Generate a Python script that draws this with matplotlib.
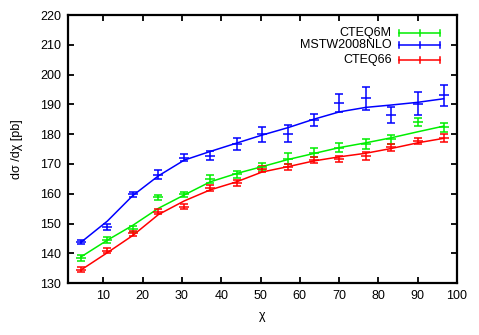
import numpy as np
import matplotlib
matplotlib.use("Agg")
import matplotlib.pyplot as plt

plt.rcParams['font.family'] = ['Liberation Sans', 'DejaVu Sans']

# bin centres in chi
chi = [4.3, 11.0, 17.5, 24.0, 30.6, 37.2, 43.9, 50.4, 57.0, 63.5, 70.1, 76.8, 83.3, 90.0, 96.6]

# CTEQ6M
cteq6m_data = [138.3, 144.6, 148.0, 158.8, 159.8, 164.9, 166.5, 169.1, 171.8, 173.8, 175.4, 176.7, 178.3, 184.2, 182.3]
cteq6m_err = [1.0, 1.0, 1.0, 0.9, 0.9, 1.3, 1.2, 1.2, 1.8, 1.5, 1.5, 1.8, 1.5, 1.3, 1.5]
cteq6m_theory = [138.8, 144.4, 149.4, 155.1, 159.6, 164.0, 166.8, 169.1, 171.5, 173.5, 175.5, 177.1, 178.8, 180.8, 182.7]

# MSTW2008NLO
mstw_data = [143.7, 148.8, 159.8, 166.4, 172.1, 172.7, 176.7, 180.0, 180.2, 184.8, 190.4, 192.0, 186.4, 190.3, 193.0]
mstw_err = [0.6, 1.0, 0.9, 1.5, 1.2, 1.5, 2.0, 2.5, 2.8, 2.0, 3.0, 3.8, 2.8, 3.8, 3.6]
mstw_theory = [143.7, 150.8, 159.4, 166.0, 171.3, 174.2, 177.0, 179.7, 182.2, 185.0, 187.5, 189.0, 189.8, 190.7, 191.9]

# CTEQ66
cteq66_data = [134.5, 140.9, 146.7, 154.0, 155.6, 162.0, 163.6, 168.3, 169.1, 171.3, 171.7, 172.7, 175.6, 177.7, 178.6]
cteq66_err = [0.8, 0.8, 0.9, 0.9, 0.8, 1.0, 1.1, 1.0, 1.0, 1.0, 1.1, 1.3, 1.2, 1.0, 1.3]
cteq66_theory = [134.4, 140.2, 146.0, 153.0, 157.6, 161.3, 164.0, 167.3, 169.1, 171.0, 172.4, 173.6, 175.2, 177.1, 178.6]

labels = ["CTEQ6M", "MSTW2008NLO", "CTEQ66"]
colors = ["#00ee00", "#0000ff", "#ff0000"]

fig = plt.figure(figsize=(4.79, 3.35), dpi=100)
ax = fig.add_axes([0.142, 0.155, 0.812, 0.800])

series = [(cteq6m_data, cteq6m_err, cteq6m_theory),
          (mstw_data, mstw_err, mstw_theory),
          (cteq66_data, cteq66_err, cteq66_theory)]

for (d, e, t), c in zip(series, colors):
    ax.plot(chi, t, color=c, lw=1.1, zorder=2)
    ax.errorbar(chi, d, yerr=e, fmt='_', color=c, ms=6.5, mew=1.1,
                elinewidth=1.1, capsize=3.2, capthick=1.1, zorder=3)

ax.set_xlim(1, 100)
ax.set_ylim(130, 220)
ax.set_xticks(np.arange(10, 101, 10))
ax.set_yticks(np.arange(130, 221, 10))
ax.tick_params(direction='in', top=True, right=True, length=4, width=1.3,
               labelsize=9, pad=5)
for s in ax.spines.values():
    s.set_linewidth(1.6)

ax.set_xlabel("χ", fontsize=9, labelpad=6)
ax.set_ylabel("dσ /dχ [pb]", fontsize=9, labelpad=12)

# gnuplot style key, top right
key_y = [0.934, 0.888, 0.832]
for lab, c, ky in zip(labels, colors, key_y):
    ax.text(0.832, ky, lab, transform=ax.transAxes, ha='right', va='center',
            fontsize=9)
    ax.plot([0.852, 0.956], [ky, ky], color=c, lw=1.1, transform=ax.transAxes,
            clip_on=False)
    for kx in (0.852, 0.905, 0.956):
        ax.plot([kx, kx], [ky - 0.012, ky + 0.012], color=c, lw=1.1,
                transform=ax.transAxes, clip_on=False)

fig.savefig("out.png", dpi=100)
